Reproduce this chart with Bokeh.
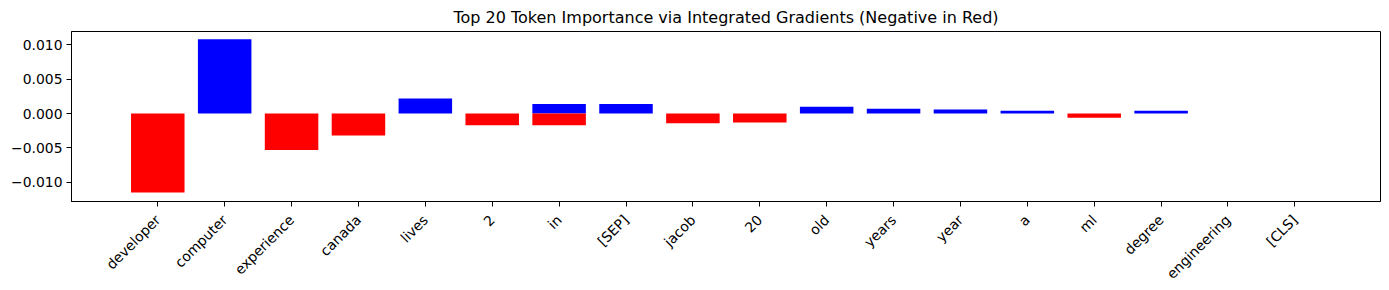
import math
from bokeh.plotting import figure
from bokeh.models import ColumnDataSource, Range1d, FixedTicker, CustomJSTickFormatter
from bokeh.embed import file_html
from bokeh.resources import INLINE

# ---- data ----
tokens = ["developer", "computer", "experience", "canada", "lives", "2", "in", "in",
          "[SEP]", "jacob", "20", "old", "years", "year", "a", "ml", "degree",
          "engineering", "[CLS]"]
scores = [-0.0115, 0.0108, -0.0053, -0.0032, 0.0022, -0.0017, 0.0014, -0.0017,
          0.0014, -0.0014, -0.0013, 0.0010, 0.0007, 0.0006, 0.0004, -0.0006, 0.0004,
          0.0, 0.0]
y_ticks = [-0.010, -0.005, 0.0, 0.005, 0.010]
title_text = "Top 20 Token Importance via Integrated Gradients (Negative in Red)"

categories = []
for t in tokens:
    if t not in categories:
        categories.append(t)
xpos = [categories.index(t) for t in tokens]
colors = ["#ff0000" if s < 0 else "#0000ff" for s in scores]

src = ColumnDataSource(dict(x=xpos, top=scores, color=colors))

p = figure(width=1389, height=290, output_backend="svg", toolbar_location=None,
           x_range=Range1d(-1.29, 18.28), y_range=Range1d(-0.0128, 0.01194),
           min_border_left=71, min_border_right=9, min_border_top=30, min_border_bottom=88)
p.vbar(x="x", top="top", bottom=0, width=0.8, fill_color="color", line_color=None, source=src)

p.title.text = title_text
p.title.align = "center"
p.title.text_font = "DejaVu Sans"
p.title.text_font_size = "16px"
p.title.text_font_style = "normal"
p.title.text_color = "#000000"

p.xgrid.visible = False
p.ygrid.visible = False
p.outline_line_color = "#000000"
p.outline_line_width = 1
p.outline_line_alpha = 1

p.xaxis.ticker = FixedTicker(ticks=list(range(len(categories))))
p.xaxis.major_label_overrides = {i: c for i, c in enumerate(categories)}
p.xaxis.major_label_orientation = math.pi / 4
p.yaxis.ticker = FixedTicker(ticks=y_ticks)
p.yaxis.formatter = CustomJSTickFormatter(code="return (tick < -1e-12 ? '\\u2212' : '') + Math.abs(tick).toFixed(3);")

for ax in (p.xaxis[0], p.yaxis[0]):
    ax.major_label_text_font = "DejaVu Sans"
    ax.major_label_text_font_size = "13.9px"
    ax.major_label_text_color = "#000000"
    ax.axis_line_color = "#000000"
    ax.major_tick_line_color = "#000000"
    ax.major_tick_out = 5
    ax.major_tick_in = 0
    ax.minor_tick_line_color = None
p.yaxis.major_label_standoff = 4
p.xaxis.major_label_standoff = 11
p.xaxis.major_label_text_align = "right"
p.xaxis.major_label_text_baseline = "top"

p.background_fill_color = "white"
p.border_fill_color = "white"

open("out.html", "w").write(file_html(p, INLINE))
